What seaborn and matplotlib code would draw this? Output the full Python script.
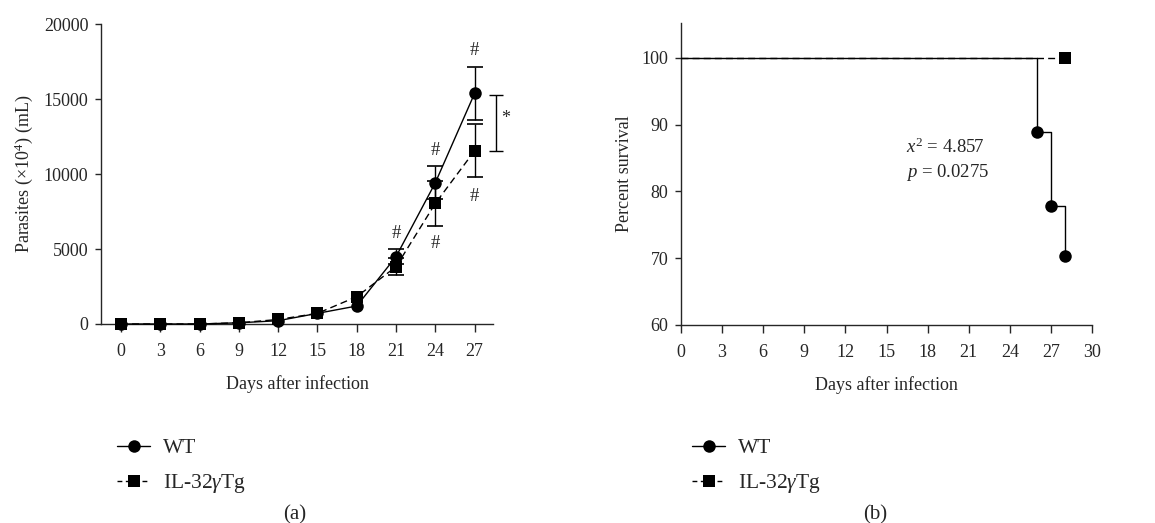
import numpy as np
import pandas as pd
import seaborn as sns
import matplotlib.pyplot as plt

# (a) parasitemia, mean +/- error
days = [0, 3, 6, 9, 12, 15, 18, 21, 24, 27]
wt_mean = [0, 0, 0, 80, 220, 710, 1200, 4490, 9420, 15380]
wt_err = [0, 0, 0, 0, 0, 0, 0, 500, 1100, 1750]
tg_mean = [0, 0, 0, 80, 300, 710, 1820, 3820, 8040, 11550]
tg_err = [0, 0, 0, 0, 0, 0, 0, 550, 1480, 1770]

hash_x = [21, 24, 27, 24, 27]
hash_y = [6060, 11600, 18270, 5400, 8490]
sig_x = 28.6
sig_y = [11550, 15250]

# (b) survival
wt_days = [0, 26, 27, 28]
wt_surv = [100, 88.9, 77.8, 70.4]
tg_days = [0, 28]
tg_surv = [100, 100]

sns.set_style('ticks')
plt.rcParams['font.family'] = ['Liberation Serif', 'DejaVu Serif']
plt.rcParams['mathtext.fontset'] = 'custom'
plt.rcParams['mathtext.rm'] = 'Liberation Serif'
plt.rcParams['mathtext.it'] = 'Liberation Serif:italic'
plt.rcParams['font.size'] = 13
plt.rcParams['axes.linewidth'] = 1.0
plt.rcParams['xtick.major.size'] = 6
plt.rcParams['ytick.major.size'] = 4.5
plt.rcParams['xtick.major.pad'] = 7.5
plt.rcParams['ytick.major.pad'] = 4.5
plt.rcParams['xtick.major.width'] = 1.0
plt.rcParams['ytick.major.width'] = 1.0

fig = plt.figure(figsize=(11.55, 5.23), dpi=100)
ax1 = fig.add_axes([0.0874, 0.3805, 0.3394, 0.5735])
ax2 = fig.add_axes([0.5896, 0.3786, 0.3559, 0.5774])

df = pd.DataFrame({'day': days, 'wt': wt_mean, 'tg': tg_mean})

sns.lineplot(data=df, x='day', y='tg', ax=ax1, color='k', linewidth=1.0,
             linestyle=(0, (5, 3)), marker='s', markersize=8.5, markeredgewidth=0,
             label='IL-32$\\gamma$Tg', clip_on=False, zorder=3)
sns.lineplot(data=df, x='day', y='wt', ax=ax1, color='k', linewidth=1.0,
             marker='o', markersize=9, markeredgewidth=0,
             label='WT', clip_on=False, zorder=4)

for m, e in [(wt_mean, wt_err), (tg_mean, tg_err)]:
    m = np.array(m)
    e = np.array(e)
    d = np.array(days)
    keep = e > 0
    ax1.errorbar(d[keep], m[keep], yerr=e[keep], fmt='none', ecolor='k',
                 elinewidth=1.0, capsize=5.5, capthick=1.2, zorder=2)

for hx, hy in zip(hash_x, hash_y):
    ax1.text(hx, hy, '#', ha='center', va='center', fontsize=13.5)

ax1.errorbar([sig_x], [np.mean(sig_y)], yerr=[(sig_y[1] - sig_y[0]) / 2],
             fmt='none', ecolor='k', elinewidth=1.0, capsize=5, capthick=1.0,
             clip_on=False)
ax1.text(29.4, 13700, '*', ha='center', va='center', fontsize=13)

ax1.set_xlim(-1.53, 28.4)
ax1.set_ylim(0, 20000)
ax1.set_xticks(days)
ax1.set_yticks([0, 5000, 10000, 15000, 20000])
ax1.set_xlabel('Days after infection', labelpad=11)
ax1.set_ylabel('Parasites (×10$^4$) (mL)', labelpad=6)
sns.despine(ax=ax1)

sns.lineplot(x=tg_days, y=tg_surv, ax=ax2, color='k', linewidth=1.0,
             linestyle=(0, (5, 3)), marker='s', markersize=9, markeredgewidth=0,
             markevery=[1], label='IL-32$\\gamma$Tg', clip_on=False, zorder=3)
sns.lineplot(x=wt_days, y=wt_surv, ax=ax2, color='k', linewidth=1.0,
             drawstyle='steps-post', marker='o', markersize=9, markeredgewidth=0,
             markevery=[1, 2, 3], label='WT', clip_on=False, zorder=4)

ax2.text(16.4, 86.6, '$x^2$ = 4.857', ha='left', va='center', fontsize=13.5)
ax2.text(16.4, 82.8, '$p$ = 0.0275', ha='left', va='center', fontsize=13.5)

ax2.set_xlim(0, 30)
ax2.set_ylim(60, 105.2)
ax2.set_xticks(range(0, 31, 3))
ax2.set_yticks([60, 70, 80, 90, 100])
ax2.set_xlabel('Days after infection', labelpad=11)
ax2.set_ylabel('Percent survival', labelpad=6)
sns.despine(ax=ax2)

for ax, lx in [(ax1, 117), (ax2, 692)]:
    h, l = ax.get_legend_handles_labels()
    leg = ax.legend(h[::-1], l[::-1], loc='upper left',
                    bbox_to_anchor=(lx / 1155, 1 - 438 / 523),
                    bbox_transform=fig.transFigure, frameon=False, borderpad=0,
                    borderaxespad=0, handlelength=1.55, handletextpad=0.6,
                    labelspacing=0.65, fontsize=15.5)
    leg.get_lines()[1].set_dashes([3.5, 2.5])

fig.text(295 / 1155, 1 - 515 / 523, '(a)', ha='center', va='center', fontsize=15)
fig.text(875 / 1155, 1 - 515 / 523, '(b)', ha='center', va='center', fontsize=15)

fig.savefig('out.png', dpi=100)
